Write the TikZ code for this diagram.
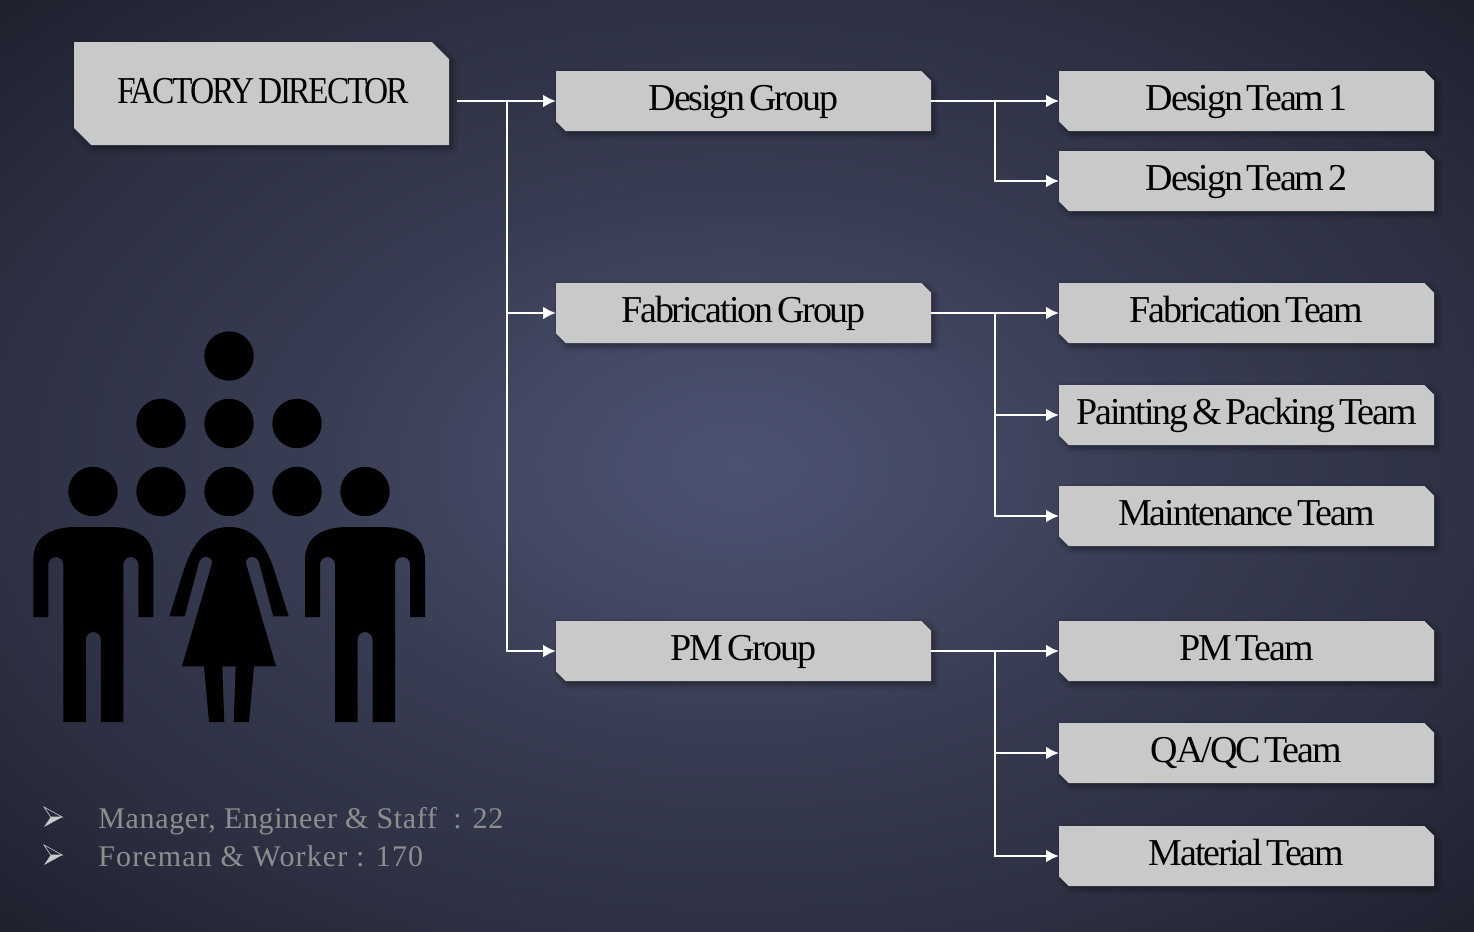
\documentclass[tikz,border=0pt]{standalone}
\usepackage{fontspec}
\setmainfont{Liberation Serif}
\newfontfamily\boxfont[LetterSpace=-5.5,WordSpace=0.5]{Liberation Serif}
\newfontfamily\topfont[LetterSpace=-6,WordSpace=0.6,FakeStretch=0.88]{Liberation Serif}
\newfontfamily\notefont[LetterSpace=2.2]{Liberation Serif}
\newfontfamily\notewidefont[LetterSpace=3.8]{Liberation Serif}
\usetikzlibrary{arrows.meta}
\usetikzlibrary{shapes.misc}
\usetikzlibrary{shadows.blur}
\definecolor{boxgray}{HTML}{C9C9C9}
\definecolor{notegray}{HTML}{8E8E8E}
\pgfdeclareradialshading{bgglow}{\pgfpoint{0bp}{0bp}}{%
  rgb(0bp)=(0.298,0.325,0.447);
  rgb(7bp)=(0.267,0.290,0.396);
  rgb(15bp)=(0.220,0.235,0.322);
  rgb(26bp)=(0.176,0.188,0.259);
  rgb(37bp)=(0.110,0.118,0.165)}
\tikzset{
  chambox/.style = {chamfered rectangle, chamfered rectangle corners = {north east, south west},
    chamfered rectangle xsep = 2.4pt, chamfered rectangle ysep = 2.4pt,
    fill = boxgray, inner sep = 0, outer sep = 0, minimum width = 187.5pt, minimum height = 30pt,
    text height = 13pt, text depth = 4pt, text = black,
    font = \boxfont\fontsize{19}{22}\selectfont,
    blur shadow = {shadow xshift = 1.5pt, shadow yshift = -1.5pt, shadow blur radius = 3pt,
      shadow blur steps = 6, shadow opacity = 45}},
  topbox/.style = {chambox, chamfered rectangle xsep = 4.3pt, chamfered rectangle ysep = 4.3pt,
    minimum height = 51.5pt, text depth = 3.5pt, font = \topfont\fontsize{19}{22}\selectfont},
  conn/.style = {draw = white, line width = 1.4pt, -{Latex[length = 6.5pt, width = 6.5pt]}},
  headdot/.style = {fill = black, circle, inner sep = 0, minimum size = 24.7pt},
  note/.style = {text = notegray, anchor = base west, inner sep = 0, font = \notefont\fontsize{15}{18}\selectfont},
  bulletfig/.pic = {
    \draw [boxgray, line width = 0.3pt] (-9, -10) -- (9.3, 0) -- (-2.3, 0) -- cycle;
    \fill [boxgray] (-9, 10) -- (9.3, 0) -- (-2.3, 0) -- cycle;
  },
  manfig/.pic = {
    \fill [black] (-60, 90) -- (-60, 33) .. controls (-60, 8) and (-40, 0) .. (-17, 0) -- (17, 0)
      .. controls (40, 0) and (60, 8) .. (60, 33) -- (60, 90) -- (45, 90) -- (45, 37.5)
      .. controls (45, 33.4) and (41.6, 30) .. (37.5, 30) .. controls (33.4, 30) and (30, 33.4) .. (30, 37.5)
      -- (30, 195) -- (7.5, 195) -- (7.5, 112.5) .. controls (7.5, 108.4) and (4.1, 105) .. (0, 105)
      .. controls (-4.1, 105) and (-7.5, 108.4) .. (-7.5, 112.5) -- (-7.5, 195) -- (-30, 195) -- (-30, 37.5)
      .. controls (-30, 33.4) and (-33.4, 30) .. (-37.5, 30) .. controls (-41.6, 30) and (-45, 33.4) .. (-45, 37.5)
      -- (-45, 90) -- cycle;
  },
  womanfig/.pic = {
    \fill [black] (-59.7, 89.3) -- (-47, 49) .. controls (-38, 18) and (-25, 0) .. (0, 0)
      .. controls (25, 0) and (38, 18) .. (47, 49) -- (59.7, 89.3) -- (44.3, 89.3) -- (29.7, 34.3)
      .. controls (28, 29) and (19, 27) .. (16.7, 35.3) -- (47, 139.3) -- (25, 139.3) -- (20, 195)
      -- (4.7, 195) -- (6.7, 139.3) -- (-6.7, 139.3) -- (-4.7, 195) -- (-20, 195) -- (-25, 139.3)
      -- (-47, 139.3) -- (-16.7, 35.3) .. controls (-19, 27) and (-28, 29) .. (-29.7, 34.3) -- (-44.3, 89.3) -- cycle;
  }
}

\begin{document}
\begin{tikzpicture}[x = 0.5pt, y = -0.5pt]
  \useasboundingbox (0, 0) rectangle (1474, 932);
  \shade [shading = bgglow] (0, 0) rectangle (1474, 932);

  % boxes
  \node [topbox] (director) at (261.5, 93.5) {\hspace*{1.5pt}FACTORY DIRECTOR};

  \node [chambox] (designgroup) at (743.5, 101) {Design Group};
  \node [chambox] (fabgroup) at (743.5, 313) {Fabrication Group};
  \node [chambox] (pmgroup) at (743.5, 651) {PM Group};

  \node [chambox] (designone) at (1246.5, 101) {Design Team 1};
  \node [chambox] (designtwo) at (1246.5, 181) {Design Team 2};
  \node [chambox] (fabteam) at (1246.5, 313) {Fabrication Team};
  \node [chambox] (paintteam) at (1246.5, 415) {Painting \& Packing Team};
  \node [chambox] (mainteam) at (1246.5, 516) {Maintenance Team};
  \node [chambox] (pmteam) at (1246.5, 651) {PM Team};
  \node [chambox] (qateam) at (1246.5, 753) {QA/QC Team};
  \node [chambox] (matteam) at (1246.5, 856) {Material Team};

  % connectors
  \coordinate (dirout) at (457, 101);
  \coordinate (maintrunk) at (507, 101);
  \coordinate (designtrunk) at (995, 101);
  \coordinate (fabtrunk) at (995, 313);
  \coordinate (pmtrunk) at (995, 651);

  \draw [conn] (dirout) -- (designgroup.west);
  \draw [conn] (maintrunk) |- (fabgroup.west);
  \draw [conn] (maintrunk) |- (pmgroup.west);

  \draw [conn] (designgroup.east) -- (designone.west);
  \draw [conn] (designtrunk) |- (designtwo.west);

  \draw [conn] (fabgroup.east) -- (fabteam.west);
  \draw [conn] (fabtrunk) |- (paintteam.west);
  \draw [conn] (fabtrunk) |- (mainteam.west);

  \draw [conn] (pmgroup.east) -- (pmteam.west);
  \draw [conn] (pmtrunk) |- (qateam.west);
  \draw [conn] (pmtrunk) |- (matteam.west);

  % people
  \node [headdot] (headtop) at (229, 356) {};
  \node [headdot] (headb) at (161, 423.5) {};
  \node [headdot] (headc) at (229, 423.5) {};
  \node [headdot] (headd) at (297, 423.5) {};
  \node [headdot] (heade) at (93, 491.5) {};
  \node [headdot] (headf) at (161, 491.5) {};
  \node [headdot] (headg) at (229, 491.5) {};
  \node [headdot] (headh) at (297, 491.5) {};
  \node [headdot] (headi) at (365, 491.5) {};
  \pic at (93.3, 527) {manfig};
  \pic at (229, 527) {womanfig};
  \pic at (365, 527) {manfig};

  % notes
  \pic at (53, 817) {bulletfig};
  \pic at (53, 855) {bulletfig};
  \node [note] (noteone) at (98, 828) {Manager, Engineer \& Staff\ \ : 22};
  \node [note, font = \notewidefont\fontsize{15}{18}\selectfont] (notetwo) at (98, 866) {Foreman \& Worker : 170};
\end{tikzpicture}
\end{document}
